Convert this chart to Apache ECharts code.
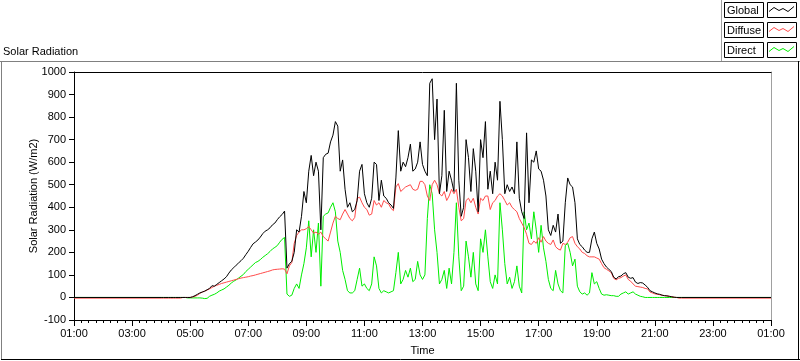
<!DOCTYPE html>
<html><head><meta charset="utf-8">
<script src="https://cdn.jsdelivr.net/npm/echarts@6/dist/echarts.min.js"></script>
<style>html,body{margin:0;padding:0;background:#fff}#c{width:800px;height:361px}</style>
</head><body><div id="c"></div>
<script>
// ---- data ----
const chartTitle = 'Solar Radiation';
const seriesNames = ['Global', 'Diffuse', 'Direct'];
const xTickLabels = ['01:00','03:00','05:00','07:00','09:00','11:00','13:00','15:00','17:00','19:00','21:00','23:00','01:00'];
const axisStartHour = 1;      // x axis starts 01:00 and spans 24 h
const dataStartHour = 4;      // first sample 04:00
const stepMinutes = 5;
const nightGlobal = 0, nightDiffuse = -3, nightDirect = 0;

const globalValues = [
  0,0,0,0,0,0,0,0,0,0,0,0,
  0,3,8,14,20,24,28,34,40,52,50,58,
  66,74,82,92,108,122,132,143,153,163,174,190,
  205,222,238,246,255,268,283,294,300,309,322,330,
  345,358,368,383,130,150,160,200,300,290,360,470,
  420,560,630,540,600,560,300,620,635,640,690,720,
  780,760,560,610,480,400,420,380,390,430,560,590,
  460,420,400,440,600,590,430,520,450,440,420,410,
  395,530,740,560,600,580,620,680,560,570,600,690,
  590,560,540,950,970,700,880,460,540,830,470,560,
  520,470,950,520,360,400,700,620,470,660,560,380,
  700,620,780,480,560,460,600,520,870,700,460,500,
  470,490,460,690,440,380,350,730,420,610,600,650,
  570,560,520,450,300,275,320,290,370,240,250,420,
  530,500,490,420,260,235,225,210,200,200,260,290,
  240,215,170,150,135,125,115,90,82,92,95,105,
  110,90,85,88,68,62,66,64,55,45,30,25,
  20,16,14,10,8,7,5,3,1,0,0,0
];
const diffuseValues = [
  -3,-3,-3,-3,-3,-3,-3,-3,-3,0,0,0,
  0,2,5,10,18,24,28,33,38,44,50,54,
  58,62,65,68,71,74,77,80,83,86,88,90,
  92,95,97,100,103,106,109,112,115,118,122,124,
  125,126,127,126,105,140,155,240,275,290,300,300,
  305,315,300,285,290,280,290,270,260,250,290,330,
  360,350,345,370,390,370,350,340,355,440,445,420,
  400,390,365,370,430,410,420,400,430,420,415,395,
  385,490,505,470,480,490,495,500,480,475,480,515,
  515,500,450,430,500,520,500,460,450,470,430,450,
  480,460,480,400,340,350,430,440,420,440,400,370,
  440,430,450,450,390,420,430,450,460,450,430,410,
  420,400,390,380,350,330,310,280,240,235,250,240,
  265,245,270,250,240,235,255,225,215,210,240,235,
  245,265,270,240,225,215,200,195,185,180,180,180,
  175,170,150,132,125,118,110,85,78,85,88,95,
  100,80,72,60,50,48,46,44,40,38,24,20,
  16,14,12,10,8,7,5,3,1,0,-3,-3
];
const directValues = [
  0,0,0,0,0,0,0,0,0,0,0,-2,
  -2,-2,-2,-2,-2,-3,-5,-4,5,10,14,20,
  28,33,38,46,54,64,72,78,86,94,102,115,
  125,135,145,155,160,168,178,186,194,204,215,222,
  230,245,258,266,15,5,10,40,60,40,100,150,
  220,340,180,300,200,330,50,360,370,375,400,420,
  380,250,200,120,80,30,20,20,30,80,130,50,
  60,40,30,60,180,140,40,20,30,25,20,25,
  30,110,200,60,80,120,90,130,70,80,160,100,
  80,100,350,500,460,300,200,60,80,120,40,130,
  60,200,420,180,30,50,250,180,90,200,60,30,
  260,200,300,180,70,40,100,60,420,300,150,60,
  90,40,70,140,50,20,380,300,330,260,380,300,
  200,320,220,160,80,40,30,120,60,30,20,230,
  240,200,140,170,50,25,15,20,10,20,110,60,
  70,40,15,10,12,10,8,8,5,5,15,20,
  25,15,20,25,15,10,5,3,0,0,0,0,
  0,0,0,0,0,0,0,0,0,0,0,0
];

// ---- build ----
const spanMinutes = 24 * 60;
const firstMinute = (dataStartHour - axisStartHour) * 60;
function build(values, night) {
  const pts = [[0, night]];
  values.forEach((v, i) => pts.push([firstMinute + i * stepMinutes, v]));
  pts.push([spanMinutes, night]);
  return pts;
}
const FONT = 'Liberation Sans';
const chart = echarts.init(document.getElementById('c'), null, {renderer: 'canvas'});

function zig(x, y) {
  return [[x+2,y+9],[x+7,y+5],[x+12,y+8],[x+16,y+6],[x+21,y+9],[x+27,y+4]];
}
const legendColors = ['#000000', '#ff4a4a', '#00ee00'];
const legendGraphics = [];
seriesNames.forEach((n, i) => {
  const y = 2.5 + i * 20;
  legendGraphics.push({type:'rect', shape:{x:724.5, y:y, width:39, height:15}, style:{fill:'#fff', stroke:'#000', lineWidth:1}});
  legendGraphics.push({type:'text', x:727, y:y+8, style:{text:n, font:'11px "'+FONT+'"', fill:'#000', verticalAlign:'middle'}});
  legendGraphics.push({type:'rect', shape:{x:767.5, y:y, width:29, height:15}, style:{fill:'#fff', stroke:'#000', lineWidth:1}});
  legendGraphics.push({type:'polyline', shape:{points:zig(767, y)}, style:{stroke:legendColors[i], lineWidth:1, fill:null}});
});

const option = {
  animation: false,
  backgroundColor: '#fff',
  textStyle: {fontFamily: FONT},
  title: {text: chartTitle, left: 3, top: 46, padding: 0,
    textStyle: {fontSize: 11, fontWeight: 'normal', color: '#000', fontFamily: FONT}},
  grid: {left: 74, right: 29, top: 72, bottom: 39, containLabel: false},
  xAxis: [{
    type: 'value', min: 0, max: spanMinutes, interval: 120,
    name: 'Time', nameLocation: 'middle', nameGap: 25,
    nameTextStyle: {fontSize: 11, color: '#000', fontFamily: FONT},
    axisLine: {onZero: false, lineStyle: {color: '#000', width: 1}},
    axisTick: {show: true, length: 6, lineStyle: {color: '#000'}},
    minorTick: {show: true, splitNumber: 8, length: 3, lineStyle: {color: '#000'}},
    axisLabel: {margin: 8, fontSize: 11, color: '#000', fontFamily: FONT,
      formatter: v => xTickLabels[Math.round(v / 120)], showMaxLabel: true, showMinLabel: true},
    splitLine: {show: false}
  }, {
    type: 'value', position: 'top', min: 0, max: spanMinutes,
    axisLine: {show: true, onZero: false, lineStyle: {color: '#000'}},
    axisTick: {show: false}, axisLabel: {show: false}, splitLine: {show: false}
  }],
  yAxis: [{
    type: 'value', min: -100, max: 1000, interval: 100,
    name: 'Solar Radiation (W/m2)', nameLocation: 'middle', nameGap: 35, nameMoveOverlap: false,
    nameTextStyle: {fontSize: 11, color: '#000', fontFamily: FONT},
    axisLine: {show: true, onZero: false, lineStyle: {color: '#000'}},
    axisTick: {show: true, length: 5, lineStyle: {color: '#000'}},
    axisLabel: {margin: 8, fontSize: 11, color: '#000', fontFamily: FONT, formatter: v => String(v)},
    splitLine: {show: false}
  }, {
    type: 'value', position: 'right', min: -100, max: 1000,
    axisLine: {show: true, onZero: false, lineStyle: {color: '#a0a0a0'}},
    axisTick: {show: false}, axisLabel: {show: false}, splitLine: {show: false}
  }],
  series: [
    {name: seriesNames[2], type: 'line', data: build(directValues, nightDirect), showSymbol: false, symbol: 'none',
      lineStyle: {color: legendColors[2], width: 1}, itemStyle: {color: legendColors[2]}, z: 2},
    {name: seriesNames[1], type: 'line', data: build(diffuseValues, nightDiffuse), showSymbol: false, symbol: 'none',
      lineStyle: {color: legendColors[1], width: 1}, itemStyle: {color: legendColors[1]}, z: 3},
    {name: seriesNames[0], type: 'line', data: build(globalValues, nightGlobal), showSymbol: false, symbol: 'none',
      lineStyle: {color: legendColors[0], width: 1}, itemStyle: {color: legendColors[0]}, z: 4}
  ],
  graphic: [
    {type:'line', shape:{x1:0, y1:61.5, x2:800, y2:61.5}, style:{stroke:'#808080', lineWidth:1}},
    {type:'line', shape:{x1:1.5, y1:61, x2:1.5, y2:360}, style:{stroke:'#808080', lineWidth:1}},
    {type:'line', shape:{x1:1, y1:359.5, x2:800, y2:359.5}, style:{stroke:'#000', lineWidth:1}},
    {type:'line', shape:{x1:798.5, y1:61, x2:798.5, y2:360}, style:{stroke:'#000', lineWidth:1}},
    {type:'line', shape:{x1:721.5, y1:0, x2:721.5, y2:61}, style:{stroke:'#a0a0a0', lineWidth:1}}
  ].concat(legendGraphics)
};
chart.setOption(option);
</script></body></html>
